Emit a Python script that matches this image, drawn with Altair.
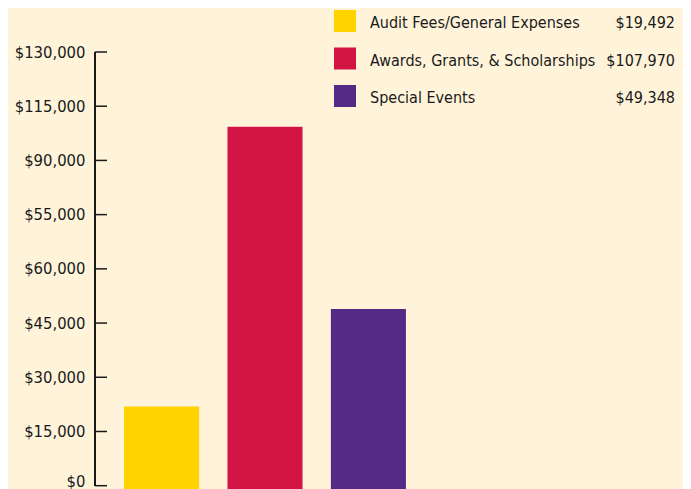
import altair as alt
import pandas as pd

# Data
categories = ["Audit Fees/General Expenses", "Awards, Grants, & Scholarships", "Special Events"]
legend_values = ["$19,492", "$107,970", "$49,348"]
bar_heights = [21900, 99350, 48900]  # bar heights as read against the drawn axis
colors = ["#FFD200", "#D31545", "#552A87"]
tick_values = [0, 15000, 30000, 45000, 60000, 75000, 90000, 105000, 120000]
tick_labels = ["$0", "$15,000", "$30,000", "$45,000", "$60,000", "$55,000", "$90,000", "$115,000", "$130,000"]

BG = "#FFF4DA"
FONT = "DejaVu Sans Condensed, Liberation Sans Narrow, Liberation Sans, Arial, sans-serif"

bars_df = pd.DataFrame({"cat": categories, "value": bar_heights, "row": [0, 1, 2],
                        "shown": legend_values})
ticks_df = pd.DataFrame({"v": tick_values, "label": tick_labels})

label_expr = "{" + ",".join(f"'{v}':'{l}'" for v, l in zip(tick_values, tick_labels)) + "}[datum.value]"

ydom = [-3127, 120000]
yscale = alt.Scale(domain=ydom, nice=False, zero=False)
color_scale = alt.Scale(domain=categories, range=colors)
yaxis = alt.Axis(values=tick_values, labelExpr=label_expr, ticks=False, domain=False,
                 grid=False, labelPadding=10, labelFont=FONT, labelFontSize=16.5,
                 labelOffset={"condition": {"test": "datum.value === 0", "value": -4}, "value": 0},
                 labelColor="#1a1a1a", title=None)

bars = alt.Chart(bars_df).mark_bar().encode(
    x=alt.X("cat:N", sort=categories, axis=None,
            scale=alt.Scale(paddingInner=0.274, paddingOuter=0.281)),
    y=alt.Y("value:Q", scale=yscale, axis=yaxis),
    y2=alt.datum(ydom[0]),
    color=alt.Color("cat:N", scale=color_scale, legend=None),
)

axis_line = alt.Chart(ticks_df).mark_rule(color="#1a1a1a", strokeWidth=1.5).encode(
    x=alt.value(0),
    y=alt.datum(0, scale=yscale, axis=yaxis),
    y2=alt.datum(120000),
)

tick_marks = alt.Chart(ticks_df).mark_rule(color="#1a1a1a", strokeWidth=1.5).encode(
    x=alt.value(0),
    x2=alt.value(12),
    y=alt.Y("v:Q", scale=yscale, axis=yaxis),
)

row_scale = alt.Scale(domain=[0, 2], range=[-31, 44], nice=False, zero=False)

leg_sq = alt.Chart(bars_df).mark_square(size=484, opacity=1, filled=True).encode(
    x=alt.value(250),
    y=alt.Y("row:Q", scale=row_scale, axis=None),
    color=alt.Color("cat:N", scale=color_scale, legend=None),
)

leg_lab = alt.Chart(bars_df).mark_text(align="left", baseline="middle", font=FONT, dy=2,
                                        fontSize=16, color="#1a1a1a").encode(
    x=alt.value(275),
    y=alt.Y("row:Q", scale=row_scale, axis=None),
    text="cat:N",
)

leg_val = alt.Chart(bars_df).mark_text(align="right", baseline="middle", font=FONT, dy=2,
                                        fontSize=16, color="#1a1a1a").encode(
    x=alt.value(580),
    y=alt.Y("row:Q", scale=row_scale, axis=None),
    text="shown:N",
)

main = alt.layer(bars, axis_line, tick_marks)
legend = alt.layer(leg_sq, leg_lab, leg_val)

chart = alt.layer(main, legend).resolve_scale(y="independent", color="shared").properties(
    width=340, height=445,
    autosize=alt.AutoSizeParams(type="none"),
    padding={"left": 87, "top": 44, "right": 248, "bottom": 0},
    background=BG,
).configure_view(stroke=None)

chart.save("out.html", embed_options={"renderer": "svg", "actions": False})
